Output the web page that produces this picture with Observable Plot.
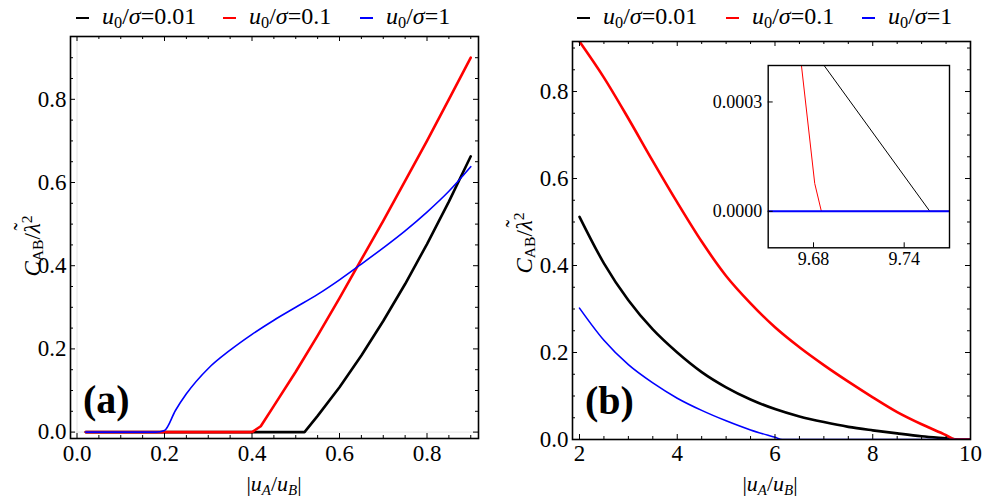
<!DOCTYPE html>
<html>
<head>
<meta charset="utf-8">
<script src="https://cdn.jsdelivr.net/npm/d3@7"></script>
<script src="https://cdn.jsdelivr.net/npm/@observablehq/plot@0.6"></script>
<style>
  html, body { margin: 0; padding: 0; background: #fff; }
  #root { position: relative; width: 987px; height: 502px; overflow: hidden; background: #fff; color: #000; font-family: 'Liberation Serif'; }
  #root svg { position: absolute; overflow: visible; background: transparent; }
  .txt { position: absolute; white-space: nowrap; line-height: 1; font-family: 'Liberation Serif'; }
  .txt sub { font-size: 0.68em; vertical-align: -0.25em; line-height: 0; }
  .txt sup { font-size: 0.68em; vertical-align: 0.5em; line-height: 0; }
  .sw { display: inline-block; width: 13px; height: 2px; vertical-align: middle; margin-right: 13px; }
  .lt { position: relative; display: inline-block; }
  .lt .tl { position: absolute; left: 0.12em; top: -0.42em; font-style: normal; }
</style>
</head>
<body>
<div id="root"></div>
<script>
const FONT = "'Liberation Serif'";
// ---------------- data ----------------
const seriesKeys   = ["0.01", "0.1", "1"];
const seriesColors = ["#000000", "#ff0000", "#0000ff"];
const seriesWidths = [2.6, 2.6, 1.6];

// panel (a): C_AB/λ² vs |uA/uB|
const aBlackX = [0.02, 0.1, 0.2, 0.3, 0.4, 0.5, 0.52, 0.55, 0.6, 0.65, 0.7, 0.75, 0.8, 0.85, 0.9];
const aBlackY = [0, 0, 0, 0, 0, 0, 0, 0.039, 0.108, 0.184, 0.267, 0.356, 0.452, 0.554, 0.663];
const aRedX   = [0.02, 0.1, 0.2, 0.3, 0.4, 0.42, 0.45, 0.5, 0.55, 0.6, 0.65, 0.7, 0.75, 0.8, 0.85, 0.9];
const aRedY   = [0, 0, 0, 0, 0, 0.014, 0.063, 0.145, 0.232, 0.322, 0.415, 0.508, 0.604, 0.7, 0.8, 0.9];
const aBlueX  = [0.02, 0.1, 0.18, 0.2, 0.225, 0.25, 0.3, 0.35, 0.4, 0.45, 0.5, 0.55, 0.6, 0.65, 0.7, 0.75, 0.8, 0.85, 0.9];
const aBlueY  = [0, 0, 0, 0.004, 0.052, 0.092, 0.153, 0.197, 0.235, 0.269, 0.3, 0.331, 0.366, 0.404, 0.443, 0.484, 0.529, 0.579, 0.638];

// panel (b)
const bBlackX = [2, 2.5, 3, 3.5, 4, 4.5, 5, 5.5, 6, 6.5, 7, 7.5, 8, 8.5, 9, 9.5, 9.757, 10];
const bBlackY = [0.512, 0.405, 0.32, 0.253, 0.2, 0.155, 0.12, 0.092, 0.07, 0.053, 0.04, 0.029, 0.021, 0.014, 0.0075, 0.0025, 0, 0];
const bRedX   = [2, 2.5, 3, 3.5, 4, 4.5, 5, 5.5, 6, 6.5, 7, 7.5, 8, 8.5, 9, 9.5, 9.685, 10];
const bRedY   = [0.915, 0.832, 0.738, 0.64, 0.545, 0.455, 0.376, 0.313, 0.258, 0.212, 0.171, 0.133, 0.097, 0.063, 0.035, 0.01, 0, 0];
const bBlueX  = [2, 2.5, 3, 3.5, 4, 4.5, 5, 5.5, 6, 6.15, 8, 10];
const bBlueY  = [0.302, 0.228, 0.172, 0.13, 0.095, 0.067, 0.043, 0.022, 0.005, 0, 0, 0];

// inset of panel (b)
const iBlackX = [9.687, 9.757, 9.77];
const iBlackY = [0.0004, 0, 0];
const iRedX   = [9.672, 9.6808, 9.6852, 9.77];
const iRedY   = [0.0004, 0.0000765, 0, 0];
const iBlueX  = [9.65, 9.77];
const iBlueY  = [0, 0];

// ticks
const aXMajor = [0, 0.2, 0.4, 0.6, 0.8];
const aXMinor = [0.05, 0.1, 0.15, 0.25, 0.3, 0.35, 0.45, 0.5, 0.55, 0.65, 0.7, 0.75, 0.85, 0.9];
const aYMajor = [0, 0.2, 0.4, 0.6, 0.8];
const aYMinor = [0.05, 0.1, 0.15, 0.25, 0.3, 0.35, 0.45, 0.5, 0.55, 0.65, 0.7, 0.75, 0.85, 0.9];
const bXMajor = [2, 4, 6, 8, 10];
const bXMinor = [2.5, 3, 3.5, 4.5, 5, 5.5, 6.5, 7, 7.5, 8.5, 9, 9.5];
const bYMajor = [0, 0.2, 0.4, 0.6, 0.8];
const bYMinor = [0.05, 0.1, 0.15, 0.25, 0.3, 0.35, 0.45, 0.5, 0.55, 0.65, 0.7, 0.75, 0.85, 0.9];
const iXMajor = [9.68, 9.74];
const iYMajor = [0, 0.0003];

// ---------------- helpers ----------------
const root = document.getElementById("root");
const zip = (key, xs, ys) => xs.map((x, i) => ({s: key, x, y: ys[i]}));

function frameTicks(xMaj, xMin, yMaj, yMin, pw, ph, bothSides) {
  const M = 5, m = 3, sw = 1;
  const out = [
    Plot.ruleX(xMaj, {x: d => d, insetTop: ph - M, stroke: "#000", strokeWidth: sw}),
    Plot.ruleY(yMaj, {y: d => d, insetRight: pw - M, stroke: "#000", strokeWidth: sw})
  ];
  if (xMin) out.push(Plot.ruleX(xMin, {x: d => d, insetTop: ph - m, stroke: "#000", strokeWidth: sw}));
  if (yMin) out.push(Plot.ruleY(yMin, {y: d => d, insetRight: pw - m, stroke: "#000", strokeWidth: sw}));
  if (bothSides) {
    out.push(Plot.ruleX(xMaj, {x: d => d, insetBottom: ph - M, stroke: "#000", strokeWidth: sw}));
    out.push(Plot.ruleY(yMaj, {y: d => d, insetLeft: pw - M, stroke: "#000", strokeWidth: sw}));
    if (xMin) out.push(Plot.ruleX(xMin, {x: d => d, insetBottom: ph - m, stroke: "#000", strokeWidth: sw}));
    if (yMin) out.push(Plot.ruleY(yMin, {y: d => d, insetLeft: pw - m, stroke: "#000", strokeWidth: sw}));
  }
  return out;
}

function lines(data, curves, widths) {
  return seriesKeys.map((k, i) =>
    Plot.line(data.filter(d => d.s === k), {x: "x", y: "y", stroke: seriesColors[i],
      strokeWidth: widths[i], curve: curves[i], clip: true}));
}

function addText(html, left, top, size, opts = {}) {
  const d = document.createElement("div");
  d.className = "txt";
  d.innerHTML = html;
  d.style.left = left + "px";
  d.style.top = top + "px";
  d.style.fontSize = size + "px";
  d.style.fontFamily = FONT;
  if (opts.bold) d.style.fontWeight = "bold";
  d.style.transform = opts.transform || "translate(-50%,-50%)";
  root.appendChild(d);
  return d;
}

const plotStyle = size => ({fontFamily: FONT, fontSize: size + "px", background: "transparent", color: "#000"});

// ---------------- panel (a) ----------------
{
  const W = 490, H = 502, m = {top: 36, right: 12, bottom: 64, left: 70};
  const pw = W - m.left - m.right, ph = H - m.top - m.bottom;
  const data = [...zip("0.01", aBlackX, aBlackY), ...zip("0.1", aRedX, aRedY), ...zip("1", aBlueX, aBlueY)];
  const svg = Plot.plot({
    width: W, height: H,
    marginTop: m.top, marginRight: m.right, marginBottom: m.bottom, marginLeft: m.left,
    style: plotStyle(23),
    x: {domain: [-0.01486, 0.9177], label: null},
    y: {domain: [-0.01538, 0.951], label: null},
    marks: [
      Plot.ruleX([0], {stroke: "#e4e4e4", strokeWidth: 1}),
      Plot.ruleY([0], {stroke: "#e4e4e4", strokeWidth: 1}),
      ...lines(data, ["linear", "linear", "monotone-x"], seriesWidths),
      ...frameTicks(aXMajor, aXMinor, aYMajor, aYMinor, pw, ph, true),
      Plot.frame({stroke: "#000", strokeWidth: 1.6}),
      Plot.axisX(aXMajor, {tickSize: 0, tickPadding: 6, tickFormat: d3.format(".1f"), label: null, fontFamily: FONT}),
      Plot.axisY(aYMajor, {tickSize: 0, tickPadding: 4, tickFormat: d3.format(".1f"), label: null, fontFamily: FONT})
    ]
  });
  svg.style.left = "0px"; svg.style.top = "0px";
  root.appendChild(svg);
}

// ---------------- panel (b) ----------------
{
  const W = 497, H = 502, m = {top: 41, right: 17, bottom: 63, left: 82};
  const pw = W - m.left - m.right, ph = H - m.top - m.bottom;
  const data = [...zip("0.01", bBlackX, bBlackY), ...zip("0.1", bRedX, bRedY), ...zip("1", bBlueX, bBlueY)];
  const svg = Plot.plot({
    width: W, height: H,
    marginTop: m.top, marginRight: m.right, marginBottom: m.bottom, marginLeft: m.left,
    style: plotStyle(23),
    x: {domain: [1.857, 10], label: null},
    y: {domain: [0, 0.915], label: null},
    marks: [
      ...lines(data, ["monotone-x", "monotone-x", "monotone-x"], seriesWidths),
      ...frameTicks(bXMajor, bXMinor, bYMajor, bYMinor, pw, ph, true),
      Plot.frame({stroke: "#000", strokeWidth: 1.6}),
      Plot.axisX(bXMajor, {tickSize: 0, tickPadding: 5, tickFormat: d3.format("d"), label: null, fontFamily: FONT}),
      Plot.axisY(bYMajor, {tickSize: 0, tickPadding: 4, tickFormat: d3.format(".1f"), label: null, fontFamily: FONT})
    ]
  });
  svg.style.left = "490px"; svg.style.top = "0px";
  root.appendChild(svg);
}

// ---------------- inset ----------------
{
  const W = 265, H = 235, m = {top: 15, right: 16, bottom: 37.7, left: 67.7};
  const pw = W - m.left - m.right, ph = H - m.top - m.bottom;
  const data = [...zip("0.01", iBlackX, iBlackY), ...zip("0.1", iRedX, iRedY), ...zip("1", iBlueX, iBlueY)];
  const svg = Plot.plot({
    width: W, height: H,
    marginTop: m.top, marginRight: m.right, marginBottom: m.bottom, marginLeft: m.left,
    style: plotStyle(18),
    x: {domain: [9.65, 9.77], label: null},
    y: {domain: [-0.0001, 0.0004], label: null},
    marks: [
      ...lines(data, ["linear", "linear", "linear"], [1, 1, 2]),
      ...frameTicks(iXMajor, null, iYMajor, null, pw, ph, false),
      Plot.frame({stroke: "#000", strokeWidth: 1.4}),
      Plot.axisX(iXMajor, {tickSize: 0, tickPadding: 4, tickFormat: d3.format(".2f"), label: null, fontFamily: FONT}),
      Plot.axisY(iYMajor, {tickSize: 0, tickPadding: 6, tickFormat: d3.format(".4f"), label: null, fontFamily: FONT})
    ]
  });
  svg.style.left = "700px"; svg.style.top = "50px";
  root.appendChild(svg);
}

// ---------------- text: legends, titles, panel tags ----------------
const legendHTML = k => `<i>u</i><sub>0</sub>/<i>σ</i>=${k}`;
const legendLeftA = [76, 223, 360];
const legendLeftB = [577, 726, 862];
[legendLeftA, legendLeftB].forEach(lefts => {
  seriesKeys.forEach((k, i) => {
    addText(`<span class="sw" style="background:${seriesColors[i]}"></span>${legendHTML(k)}`,
      lefts[i], 16, 24, {transform: "translate(0,-50%)"});
  });
});

const yTitle = `<i>C</i><sub>AB</sub>/<span class="lt"><i>λ</i><span class="tl">˜</span></span><sup>2</sup>`;
addText(yTitle, 32, 246, 23, {transform: "translate(-50%,-50%) rotate(-90deg)"});
addText(yTitle, 524, 243, 23, {transform: "translate(-50%,-50%) rotate(-90deg)"});

const xTitle = `|<i>u</i><sub><i>A</i></sub>/<i>u</i><sub><i>B</i></sub>|`;
addText(xTitle, 274, 484, 22);
addText(xTitle, 770, 484, 22);

addText("(a)", 83, 380, 40, {bold: true, transform: "none"});
addText("(b)", 585, 381, 40, {bold: true, transform: "none"});
</script>
</body>
</html>
